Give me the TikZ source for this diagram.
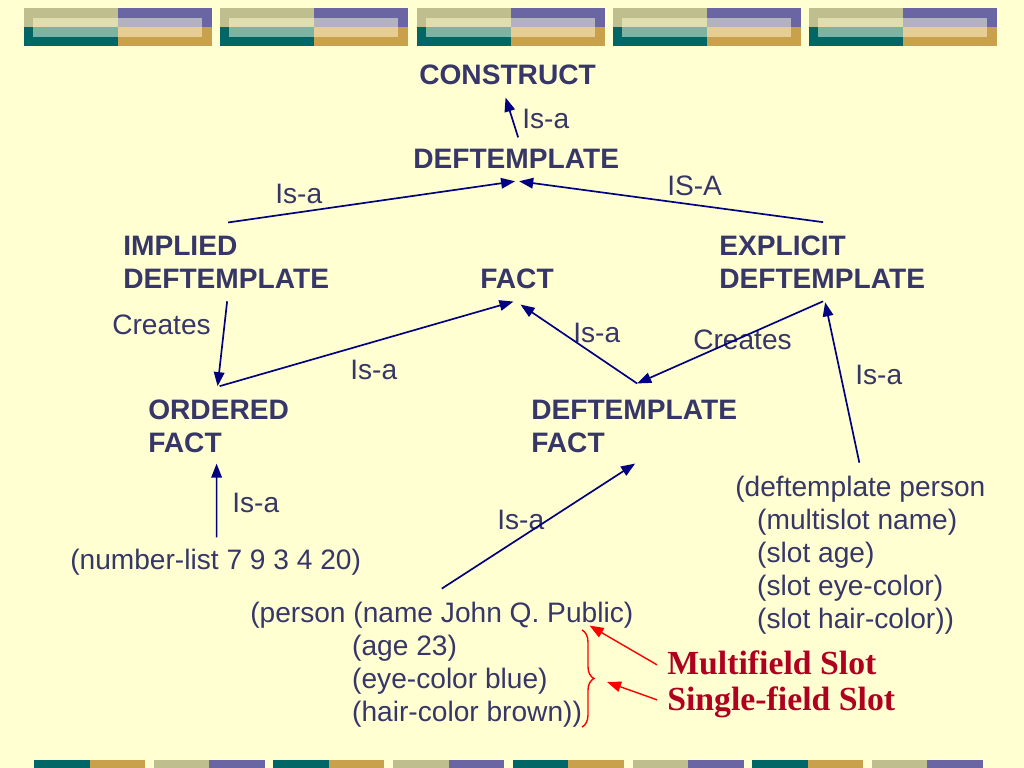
\documentclass[tikz,border=0pt]{standalone}
\usepackage{fontspec}
\setmainfont{Liberation Sans}
\newfontfamily\slotfont{Liberation Serif}
\usetikzlibrary{calc,arrows.meta,decorations.pathreplacing}
\definecolor{bgcol}{HTML}{FFFFD2}
\definecolor{txtcol}{HTML}{363669}
\definecolor{arrcol}{HTML}{000080}
\definecolor{slotred}{HTML}{B00020}
\definecolor{bnkhaki}{HTML}{BEBE8F}
\definecolor{bnpurple}{HTML}{6A66A4}
\definecolor{bnteal}{HTML}{006666}
\definecolor{bngold}{HTML}{C9A04B}
\definecolor{inkhaki}{HTML}{E0DEAF}
\definecolor{inteal}{HTML}{7DB3A3}
\definecolor{inpurple}{HTML}{B3B3BF}
\definecolor{ingold}{HTML}{E5CD93}
\begin{document}
\begin{tikzpicture}[x=0.025cm,y=-0.025cm,
    lbl/.style={anchor=base west,inner sep=0pt,align=left,text=txtcol,
                font=\fontsize{20}{23.4}\selectfont},
    hd/.style={lbl,font=\fontsize{20}{23.4}\selectfont\bfseries},
    slotlbl/.style={anchor=base west,inner sep=0pt,text=slotred,
                    font=\slotfont\fontsize{24}{28}\selectfont\bfseries},
    arr/.style={-{Triangle[length=10pt,width=7.5pt]},line width=1.2pt,draw=arrcol},
    redarr/.style={-{Triangle[length=10pt,width=7.5pt]},line width=1pt,draw=red}]
  \useasboundingbox (0,0) rectangle (1024,768);
  \fill[bgcol] (0,0) rectangle (1024,768);
  % banner strips
  \foreach \i in {0,...,4}{
    \pgfmathsetmacro{\bx}{24+196.3*\i}
    \fill[bnkhaki] (\bx,8) rectangle ++(94,19);
    \fill[bnteal] (\bx,27) rectangle ++(94,19);
    \fill[bnpurple] (\bx+94,8) rectangle ++(94,19);
    \fill[bngold] (\bx+94,27) rectangle ++(94,19);
    \fill[inkhaki] (\bx+9,18) rectangle ++(85,9);
    \fill[inteal] (\bx+9,27) rectangle ++(85,10);
    \fill[inpurple] (\bx+94,18) rectangle ++(84,9);
    \fill[ingold] (\bx+94,27) rectangle ++(84,10);
  }
  \foreach \i/\ca/\cb in {0/bnteal/bngold,1/bnkhaki/bnpurple,2/bnteal/bngold,
      3/bnkhaki/bnpurple,4/bnteal/bngold,5/bnkhaki/bnpurple,6/bnteal/bngold,
      7/bnkhaki/bnpurple}{
    \pgfmathsetmacro{\bx}{34+119.7*\i}
    \fill[\ca] (\bx,760) rectangle ++(55.5,8);
    \fill[\cb] (\bx+55.5,760) rectangle ++(55.5,8);
  }

  % class nodes (multi-line nodes sit on their last line)
  \node[hd] (construct) at (419,85) {CONSTRUCT};
  \node[hd] (deftempl) at (413,169) {DEFTEMPLATE};
  \node[hd] (implied) at (123,288) {IMPLIED\\DEFTEMPLATE};
  \node[hd] (fact) at (480,288) {FACT};
  \node[hd] (explicit) at (719,288) {EXPLICIT\\DEFTEMPLATE};
  \node[hd] (ordered) at (148,452) {ORDERED\\FACT};
  \node[hd] (dtfact) at (531,452) {DEFTEMPLATE\\FACT};

  % instances
  \node[lbl] (defperson) at (735,628) {(deftemplate person\\
    \hspace*{15.6pt}(multislot name)\\
    \hspace*{15.6pt}(slot age)\\
    \hspace*{15.6pt}(slot eye-color)\\
    \hspace*{15.6pt}(slot hair-color))};
  \node[lbl] (numlist) at (70,569) {(number-list 7 9 3 4 20)};
  \node[lbl] (person) at (250,721) {(person (name John Q. Public)\\
    \hspace*{72.5pt}(age 23)\\
    \hspace*{72.5pt}(eye-color blue)\\
    \hspace*{72.5pt}(hair-color brown))};
  \node[slotlbl] (multi) at (667,674) {Multifield Slot};
  \node[slotlbl] (single) at (667,710) {Single-field Slot};

  % edge labels
  \node[lbl] (isa1) at (522,129) {Is-a};
  \node[lbl] (isa2) at (275,203) {Is-a};
  \node[lbl] (isa3) at (667,195) {IS-A};
  \node[lbl] (creates1) at (112,334) {Creates};
  \node[lbl] (isa4) at (573,342) {Is-a};
  \node[lbl] (creates2) at (693,349) {Creates};
  \node[lbl] (isa5) at (350,379) {Is-a};
  \node[lbl] (isa6) at (855,384) {Is-a};
  \node[lbl] (isa7) at (232,512) {Is-a};
  \node[lbl] (isa8) at (497,529) {Is-a};

  % connectors
  \draw[arr] ($(deftempl.north)+(2,-12)$) -- ($(construct.south)+(-2,12)$);
  \draw[arr] ($(implied.north)+(2,-13)$) -- ($(deftempl.south)+(-1,12)$);
  \draw[arr] ($(explicit.north)+(1,-13)$) -- ($(deftempl.south)+(3,12)$);
  \draw[arr] ($(implied.south)+(1,13)$) -- ($(ordered.north)+(-1,-13)$);
  \draw[arr] ($(ordered.north)+(1,-13)$) -- ($(fact.south)+(-3.5,13)$);
  \draw[arr] ($(dtfact.north)+(3,-16)$) -- ($(fact.south)+(3.5,16)$);
  \draw[arr] ($(explicit.south)+(1,13)$) -- ($(dtfact.north)+(3,-16)$);
  \draw[arr] ($(defperson.north)+(-1,-13)$) -- ($(explicit.south)+(3,14)$);
  \draw[arr] ($(numlist.north)+(1,-11)$) -- ($(ordered.south)+(-2,11)$);
  \draw[arr] ($(person.north)+(0,-13)$) -- ($(dtfact.south)+(1,11)$);

  % slot brace and pointers
  \coordinate (brtop) at (582,630);
  \coordinate (brbot) at (582,727);
  \draw[red,line width=1pt,decorate,decoration={brace,amplitude=8.5pt}]
    (brtop) -- (brbot);
  \draw[redarr] ($(multi.west)+(-10,2.5)$) -- ($(person.north east)+(-44,24)$);
  \draw[redarr] ($(single.west)+(-10,-2)$) -- ($($(brtop)!.5!(brbot)$)+(25,3.5)$);
\end{tikzpicture}
\end{document}
